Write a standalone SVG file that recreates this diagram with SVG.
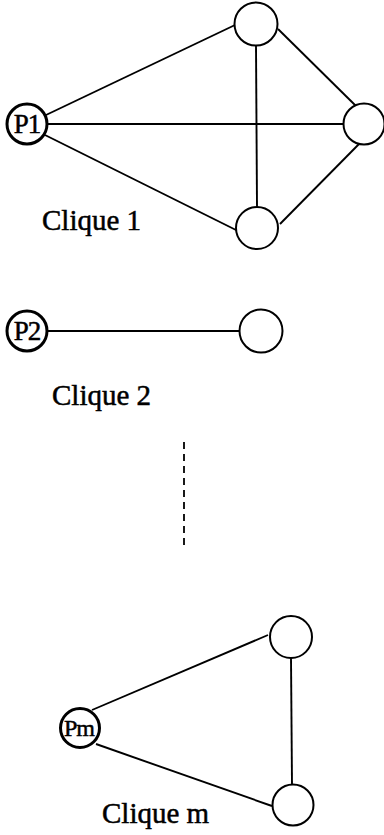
<svg xmlns="http://www.w3.org/2000/svg" width="384" height="835" viewBox="0 0 384 835">
  <style>
    .node { fill: #fff; stroke: #000; stroke-width: 2; }
    .pnode { fill: #fff; stroke: #000; stroke-width: 3; }
    .edge { stroke: #000; stroke-width: 1.9; fill: none; }
    .dash { stroke: #000; stroke-width: 1.8; stroke-dasharray: 7 5; fill: none; }
    .plabel { font-family: "Liberation Serif", "Times New Roman", serif; font-size: 27px; fill: #000; stroke: #000; stroke-width: 0.5; text-anchor: middle; letter-spacing: -1px; }
    .title { font-family: "Liberation Serif", "Times New Roman", serif; font-size: 29px; fill: #000; stroke: #000; stroke-width: 0.5; }
  </style>
  <rect width="384" height="835" fill="#fff"/>

  <!-- edges -->
  <g id="connectors">
    <!-- clique 1 -->
    <line class="edge" x1="46" y1="115" x2="235" y2="25"/>
    <line class="edge" x1="47" y1="124" x2="344" y2="124"/>
    <line class="edge" x1="45" y1="135" x2="238" y2="231"/>
    <line class="edge" x1="256" y1="45" x2="257" y2="207"/>
    <line class="edge" x1="278" y1="29" x2="356" y2="106"/>
    <line class="edge" x1="280" y1="224" x2="359" y2="144"/>
    <!-- clique 2 -->
    <line class="edge" x1="47" y1="331" x2="240" y2="331"/>
    <!-- ellipsis between cliques -->
    <line class="dash" x1="184" y1="442" x2="184" y2="546"/>
    <!-- clique m -->
    <line class="edge" x1="92" y1="710" x2="268" y2="635"/>
    <line class="edge" x1="96" y1="744" x2="272" y2="806"/>
    <line class="edge" x1="291" y1="658" x2="292" y2="785"/>
  </g>

  <!-- clique 1 -->
  <g id="p1">
    <circle class="pnode" cx="27" cy="124" r="20"/>
    <text class="plabel" x="27" y="133">P1</text>
  </g>
  <g id="c1-top"><circle class="node" cx="256" cy="24" r="21.5"/></g>
  <g id="c1-right"><circle class="node" cx="364" cy="124" r="20.5"/></g>
  <g id="c1-bottom"><circle class="node" cx="257" cy="228" r="21"/></g>
  <g id="label-c1"><text class="title" x="42" y="230">Clique 1</text></g>

  <!-- clique 2 -->
  <g id="p2">
    <circle class="pnode" cx="27" cy="331" r="20"/>
    <text class="plabel" x="27" y="340">P2</text>
  </g>
  <g id="c2-right"><circle class="node" cx="261" cy="331" r="21.5"/></g>
  <g id="label-c2"><text class="title" x="52" y="405">Clique 2</text></g>

  <!-- clique m -->
  <g id="pm">
    <circle class="pnode" cx="80" cy="728" r="19.5"/>
    <text class="plabel" x="79" y="736" style="font-size:24px">Pm</text>
  </g>
  <g id="cm-top"><circle class="node" cx="291" cy="637" r="21"/></g>
  <g id="cm-bottom"><circle class="node" cx="293" cy="805" r="20.5"/></g>
  <g id="label-cm"><text class="title" x="102" y="823">Clique m</text></g>
</svg>
